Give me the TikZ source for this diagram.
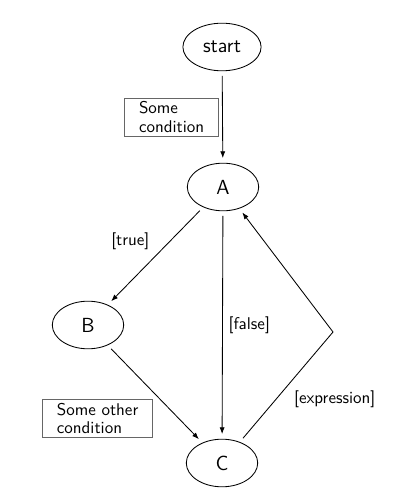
\documentclass[tikz,border=0pt]{standalone}
\usetikzlibrary{arrows.meta,shapes.geometric,positioning}
\renewcommand{\familydefault}{\sfdefault}

\begin{document}
\begin{tikzpicture}[
  x=0.5882pt, y=-0.5882pt,
  state/.style={ellipse, draw, line width=0.5pt,
    minimum width=42pt, minimum height=28pt, outer sep=3pt, font=\large},
  note/.style={draw=black!60, line width=0.5pt, align=left,
    inner xsep=8.5pt, inner ysep=2pt, font={\fontsize{10}{11}\selectfont}},
  guard/.style={font=\normalsize},
  flow/.style={-{Latex[length=4pt,width=3pt]}, line width=0.5pt}
]
\useasboundingbox (0,0) rectangle (413,504);
\node[state, minimum width=46pt] (start) at (222,47) {start};
\node[state] (A) at (223,187) {A};
\node[state] (B) at (88,325) {B};
\node[state] (C) at (222,463) {C};
\coordinate (bend) at (333,332);
\draw[flow] (start) -- node[note, left=2pt] {Some\\condition} (A);
\draw[flow] (A) -- node[guard, above left] {[true]} (B);
\draw[flow] (A) -- node[guard, right] {[false]} (C);
\draw[flow] (B) -- node[note, pos=0.77, left=15pt] {Some other\\condition} (C);
\draw[flow] (C) -- node[guard, below right] {[expression]} (bend) -- (A);
\end{tikzpicture}
\end{document}
